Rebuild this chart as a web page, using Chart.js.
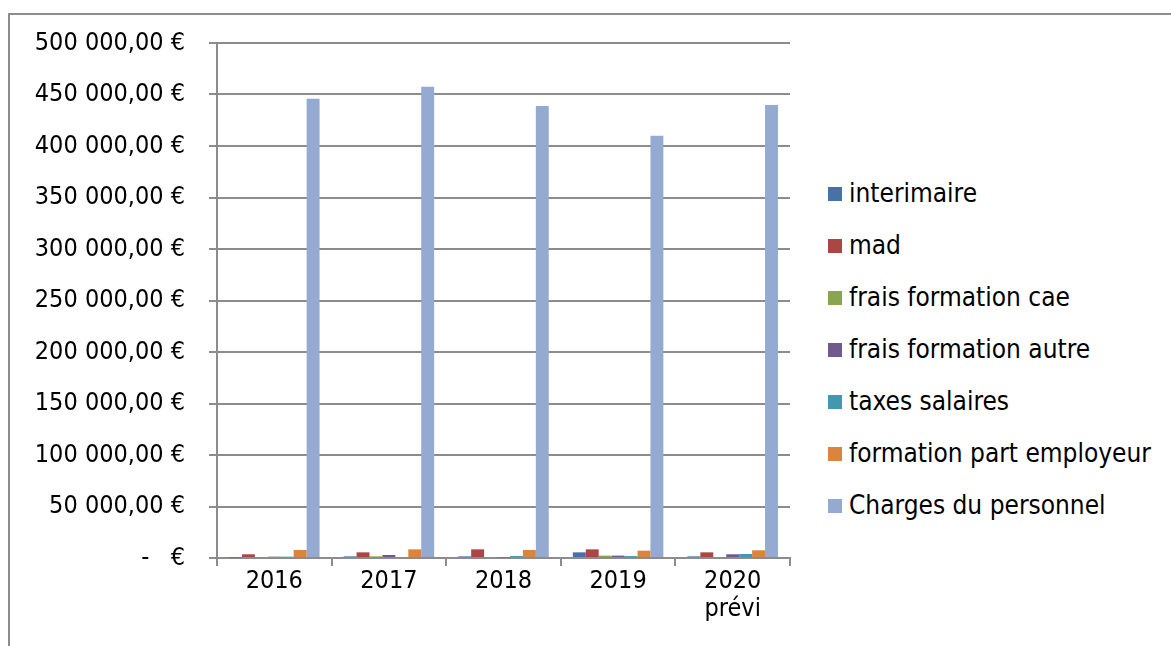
<!DOCTYPE html>
<html>
<head>
<meta charset="utf-8">
<script src="https://cdn.jsdelivr.net/npm/chart.js@4"></script>
<style>
  body { margin: 0; background: #fff; }
  #wrap { position: relative; width: 1171px; height: 646px; overflow: hidden; }
  #frame { position: absolute; left: 8px; top: 13px; width: 1200px; height: 700px;
           border-left: 2px solid #8c8c8c; border-top: 2px solid #8c8c8c; }
  #chart { position: absolute; left: 0; top: 0; }
  #legend { position: absolute; left: 828px; top: 0; font-family: "DejaVu Sans Condensed", "DejaVu Sans", sans-serif;
            font-size: 26px; color: #000; }
  .item { position: absolute; white-space: nowrap; height: 30px; line-height: 30px; }
  .box { display: inline-block; width: 14px; height: 14px; margin-right: 7px; vertical-align: 1px; }
</style>
</head>
<body>
<div id="wrap">
  <div id="frame"></div>
  <canvas id="chart" width="800" height="646"></canvas>
  <div id="legend"></div>
</div>
<script>
const years = ["2016", "2017", "2018", "2019", ["2020", "prévi"]];

const seriesNames = ["interimaire", "mad", "frais formation cae", "frais formation autre",
                     "taxes salaires", "formation part employeur", "Charges du personnel"];
const seriesColors = ["#4572A7", "#AA4643", "#89A54E", "#71588F", "#4198AF", "#DB843D", "#95AAD0"];

const interimaire = [400, 1600, 1600, 5500, 1600];
const mad = [3600, 5500, 8400, 8400, 5500];
const fraisCae = [600, 1600, 0, 2300, 0];
const fraisAutre = [1300, 2900, 600, 2300, 3600];
const taxes = [1300, 0, 1900, 1900, 3900];
const formationEmployeur = [7800, 8400, 7800, 7100, 7500];
const charges = [445900, 457500, 438800, 409900, 439700];

const seriesValues = [interimaire, mad, fraisCae, fraisAutre, taxes, formationEmployeur, charges];

const FONT = "'DejaVu Sans Condensed', 'DejaVu Sans', sans-serif";

function euro(v) {
    if (v === 0) return "-   €";
    const s = Math.round(v).toString().replace(/\B(?=(\d{3})+(?!\d))/g, " ");
    return s + ",00 €";
}

const datasets = seriesNames.map((name, i) => ({
    label: name,
    data: seriesValues[i],
    backgroundColor: seriesColors[i],
    borderWidth: 0,
    categoryPercentage: 0.79,
    barPercentage: 1
}));

new Chart(document.getElementById("chart"), {
    type: 'bar',
    data: { labels: years, datasets: datasets },
    options: {
        responsive: false,
        animation: false,
        layout: { padding: { top: 43, right: 10, left: 0, bottom: 0 } },
        plugins: { legend: { display: false }, tooltip: { enabled: false } },
        scales: {
            x: {
                grid: { drawOnChartArea: false, drawTicks: true, tickLength: 8, color: '#8c8c8c', lineWidth: 2 },
                border: { color: '#8c8c8c', width: 2 },
                ticks: { color: '#000', font: { family: FONT, size: 25, lineHeight: 1.12 }, padding: 1, maxRotation: 0 },
                afterFit: s => { s.height = 88; }
            },
            y: {
                min: 0,
                max: 500000,
                grid: { color: '#8c8c8c', lineWidth: 2, tickLength: 8 },
                border: { color: '#8c8c8c', width: 2 },
                ticks: { stepSize: 50000, color: '#000', font: { family: FONT, size: 25 }, padding: 24,
                         callback: v => euro(v) },
                afterFit: s => { s.width = 217; }
            }
        }
    }
});

// legend
const legend = document.getElementById("legend");
seriesNames.forEach((name, i) => {
    const div = document.createElement("div");
    div.className = "item";
    div.style.top = (178 + i * 52) + "px";
    div.innerHTML = `<span class="box" style="background:${seriesColors[i]}"></span>${name}`;
    legend.appendChild(div);
});
</script>
</body>
</html>
